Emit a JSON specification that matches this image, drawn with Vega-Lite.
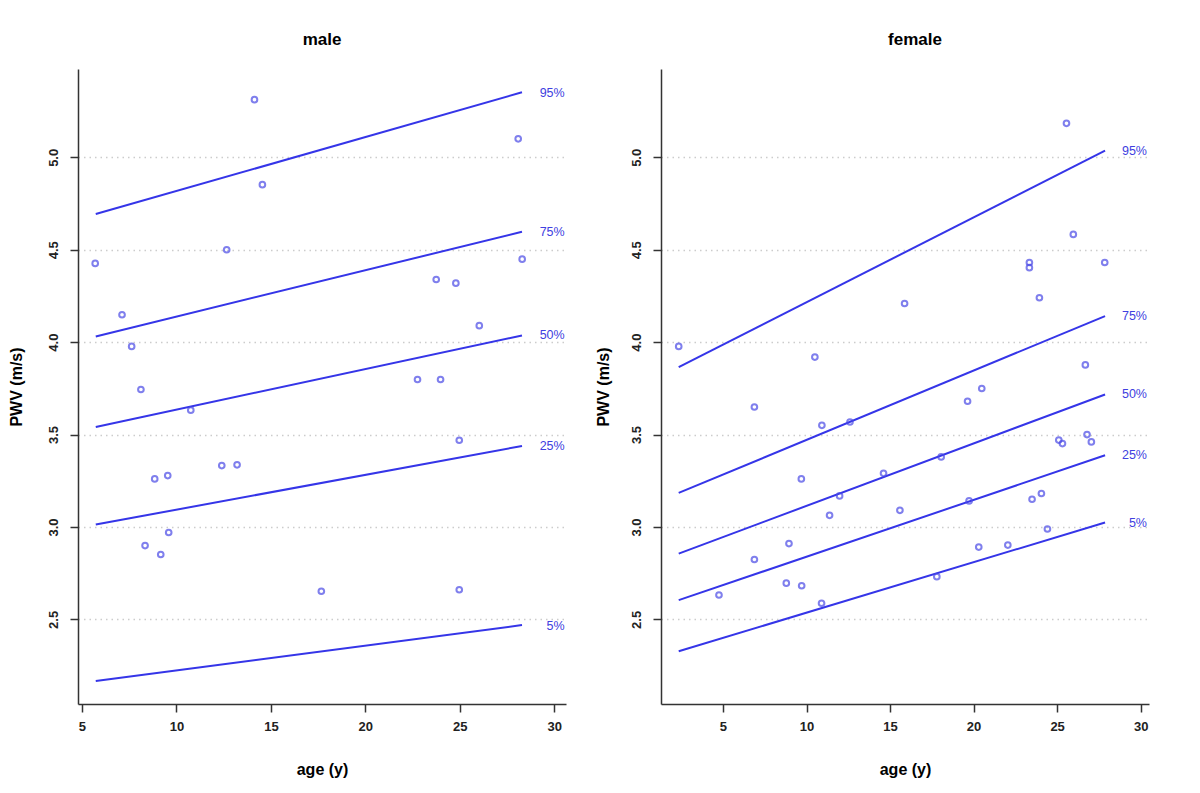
{
  "$schema": "https://vega.github.io/schema/vega-lite/v6.json",
  "background": "white",
  "padding": {"left": 8, "top": 31, "right": 5, "bottom": 5},
  "config": {
    "font": "Liberation Sans",
    "view": {"stroke": null},
    "axis": {
      "domainColor": "#333333", "domainWidth": 1.5,
      "tickColor": "#333333", "tickWidth": 1.5, "tickSize": 8,
      "labelFont": "Liberation Sans", "labelFontWeight": "bold", "labelFontSize": 13, "labelColor": "#222222",
      "titleFont": "Liberation Sans", "titleFontWeight": "bold", "titleFontSize": 16, "titleColor": "#000000"
    },
    "title": {"font": "Liberation Sans", "fontWeight": "bold", "fontSize": 17, "color": "#000000", "offset": 20}
  },
  "datasets": {
    "points": [
      {"sex": "male", "age": 5.70, "pwv": 4.426},
      {"sex": "male", "age": 14.13, "pwv": 5.312},
      {"sex": "male", "age": 14.55, "pwv": 4.852},
      {"sex": "male", "age": 12.66, "pwv": 4.50},
      {"sex": "male", "age": 7.12, "pwv": 4.148},
      {"sex": "male", "age": 7.63, "pwv": 3.977},
      {"sex": "male", "age": 8.12, "pwv": 3.744},
      {"sex": "male", "age": 10.76, "pwv": 3.632},
      {"sex": "male", "age": 8.85, "pwv": 3.26},
      {"sex": "male", "age": 9.54, "pwv": 3.278},
      {"sex": "male", "age": 12.40, "pwv": 3.332},
      {"sex": "male", "age": 13.21, "pwv": 3.336},
      {"sex": "male", "age": 9.59, "pwv": 2.970},
      {"sex": "male", "age": 8.34, "pwv": 2.899},
      {"sex": "male", "age": 9.17, "pwv": 2.851},
      {"sex": "male", "age": 28.09, "pwv": 5.10},
      {"sex": "male", "age": 28.30, "pwv": 4.449},
      {"sex": "male", "age": 23.75, "pwv": 4.339},
      {"sex": "male", "age": 24.79, "pwv": 4.319},
      {"sex": "male", "age": 26.03, "pwv": 4.089},
      {"sex": "male", "age": 22.76, "pwv": 3.798},
      {"sex": "male", "age": 23.98, "pwv": 3.798},
      {"sex": "male", "age": 24.97, "pwv": 3.469},
      {"sex": "male", "age": 17.67, "pwv": 2.652},
      {"sex": "male", "age": 24.97, "pwv": 2.660},
      {"sex": "female", "age": 2.35, "pwv": 3.977},
      {"sex": "female", "age": 10.50, "pwv": 3.919},
      {"sex": "female", "age": 6.88, "pwv": 3.649},
      {"sex": "female", "age": 10.92, "pwv": 3.550},
      {"sex": "female", "age": 12.60, "pwv": 3.568},
      {"sex": "female", "age": 9.69, "pwv": 3.26},
      {"sex": "female", "age": 14.61, "pwv": 3.29},
      {"sex": "female", "age": 11.98, "pwv": 3.168},
      {"sex": "female", "age": 11.38, "pwv": 3.063},
      {"sex": "female", "age": 8.95, "pwv": 2.910},
      {"sex": "female", "age": 6.88, "pwv": 2.824},
      {"sex": "female", "age": 4.76, "pwv": 2.632},
      {"sex": "female", "age": 8.79, "pwv": 2.696},
      {"sex": "female", "age": 9.71, "pwv": 2.682},
      {"sex": "female", "age": 10.90, "pwv": 2.587},
      {"sex": "female", "age": 25.56, "pwv": 5.184},
      {"sex": "female", "age": 25.97, "pwv": 4.583},
      {"sex": "female", "age": 23.34, "pwv": 4.431},
      {"sex": "female", "age": 23.34, "pwv": 4.403},
      {"sex": "female", "age": 27.85, "pwv": 4.431},
      {"sex": "female", "age": 23.94, "pwv": 4.240},
      {"sex": "female", "age": 15.87, "pwv": 4.209},
      {"sex": "female", "age": 26.69, "pwv": 3.877},
      {"sex": "female", "age": 20.49, "pwv": 3.749},
      {"sex": "female", "age": 19.64, "pwv": 3.680},
      {"sex": "female", "age": 26.79, "pwv": 3.50},
      {"sex": "female", "age": 25.10, "pwv": 3.470},
      {"sex": "female", "age": 25.32, "pwv": 3.451},
      {"sex": "female", "age": 27.05, "pwv": 3.460},
      {"sex": "female", "age": 18.06, "pwv": 3.379},
      {"sex": "female", "age": 15.59, "pwv": 3.090},
      {"sex": "female", "age": 19.73, "pwv": 3.141},
      {"sex": "female", "age": 23.50, "pwv": 3.150},
      {"sex": "female", "age": 24.06, "pwv": 3.181},
      {"sex": "female", "age": 24.42, "pwv": 2.989},
      {"sex": "female", "age": 20.31, "pwv": 2.891},
      {"sex": "female", "age": 22.05, "pwv": 2.902},
      {"sex": "female", "age": 17.80, "pwv": 2.731}
    ],
    "lines": [
      {"sex": "male", "pct": "95%", "age": 5.73, "pwv": 4.693},
      {"sex": "male", "pct": "95%", "age": 28.29, "pwv": 5.352},
      {"sex": "male", "pct": "75%", "age": 5.73, "pwv": 4.031},
      {"sex": "male", "pct": "75%", "age": 28.29, "pwv": 4.597},
      {"sex": "male", "pct": "50%", "age": 5.73, "pwv": 3.541},
      {"sex": "male", "pct": "50%", "age": 28.29, "pwv": 4.036},
      {"sex": "male", "pct": "25%", "age": 5.73, "pwv": 3.013},
      {"sex": "male", "pct": "25%", "age": 28.29, "pwv": 3.438},
      {"sex": "male", "pct": "5%", "age": 5.73, "pwv": 2.166},
      {"sex": "male", "pct": "5%", "age": 28.29, "pwv": 2.469},
      {"sex": "female", "pct": "95%", "age": 2.35, "pwv": 3.865},
      {"sex": "female", "pct": "95%", "age": 27.87, "pwv": 5.036},
      {"sex": "female", "pct": "75%", "age": 2.35, "pwv": 3.184},
      {"sex": "female", "pct": "75%", "age": 27.87, "pwv": 4.141},
      {"sex": "female", "pct": "50%", "age": 2.35, "pwv": 2.856},
      {"sex": "female", "pct": "50%", "age": 27.87, "pwv": 3.717},
      {"sex": "female", "pct": "25%", "age": 2.35, "pwv": 2.604},
      {"sex": "female", "pct": "25%", "age": 27.87, "pwv": 3.388},
      {"sex": "female", "pct": "5%", "age": 2.35, "pwv": 2.327},
      {"sex": "female", "pct": "5%", "age": 27.87, "pwv": 3.024}
    ],
    "labels": [
      {"sex": "male", "pct": "95%", "age": 30.55, "pwv": 5.346},
      {"sex": "male", "pct": "75%", "age": 30.55, "pwv": 4.597},
      {"sex": "male", "pct": "50%", "age": 30.55, "pwv": 4.036},
      {"sex": "male", "pct": "25%", "age": 30.55, "pwv": 3.438},
      {"sex": "male", "pct": "5%", "age": 30.55, "pwv": 2.466},
      {"sex": "female", "pct": "95%", "age": 30.38, "pwv": 5.036},
      {"sex": "female", "pct": "75%", "age": 30.38, "pwv": 4.141},
      {"sex": "female", "pct": "50%", "age": 30.38, "pwv": 3.717},
      {"sex": "female", "pct": "25%", "age": 30.38, "pwv": 3.388},
      {"sex": "female", "pct": "5%", "age": 30.38, "pwv": 3.024}
    ]
  },
  "spacing": 29,
  "hconcat": [
    {
      "title": {"text": "male"},
      "width": 488, "height": 635,
      "layer": [
        {
          "data": {"name": "lines"},
          "transform": [{"filter": "datum.sex === 'male'"}],
          "mark": {"type": "line", "color": "#3535e8", "strokeWidth": 2},
          "encoding": {
            "x": {"field": "age", "type": "quantitative", "scale": {"domain": [4.79, 30.62], "nice": false, "zero": false},
              "axis": {"title": "age (y)", "values": [5, 10, 15, 20, 25, 30], "grid": false, "labelPadding": 8, "titlePadding": 28}},
            "y": {"field": "pwv", "type": "quantitative", "scale": {"domain": [2.042, 5.478], "nice": false, "zero": false},
              "axis": {"title": "PWV (m/s)", "values": [2.5, 3.0, 3.5, 4.0, 4.5, 5.0], "format": ".1f", "labelAngle": -90, "labelAlign": "center", "labelBaseline": "bottom", "labelPadding": 10, "titlePadding": 23,
                "grid": true, "gridColor": "#cccccc", "gridDash": [1.5, 4], "gridWidth": 1.3}},
            "detail": {"field": "pct"}
          }
        },
        {
          "data": {"name": "points"},
          "transform": [{"filter": "datum.sex === 'male'"}],
          "mark": {"type": "point", "shape": "circle", "filled": false, "color": "#4a4ae6", "strokeWidth": 2, "size": 32},
          "encoding": {
            "x": {"field": "age", "type": "quantitative"},
            "y": {"field": "pwv", "type": "quantitative"}
          }
        },
        {
          "data": {"name": "labels"},
          "transform": [{"filter": "datum.sex === 'male'"}],
          "mark": {"type": "text", "align": "right", "baseline": "middle", "color": "#4040e0", "fontSize": 12.5, "font": "Liberation Sans"},
          "encoding": {
            "x": {"field": "age", "type": "quantitative"},
            "y": {"field": "pwv", "type": "quantitative"},
            "text": {"field": "pct"}
          }
        }
      ]
    },
    {
      "title": {"text": "female", "dx": 10},
      "width": 488, "height": 635,
      "layer": [
        {
          "data": {"name": "lines"},
          "transform": [{"filter": "datum.sex === 'female'"}],
          "mark": {"type": "line", "color": "#3535e8", "strokeWidth": 2},
          "encoding": {
            "x": {"field": "age", "type": "quantitative", "scale": {"domain": [1.29, 30.5], "nice": false, "zero": false},
              "axis": {"title": "age (y)", "values": [5, 10, 15, 20, 25, 30], "grid": false, "labelPadding": 8, "titlePadding": 28}},
            "y": {"field": "pwv", "type": "quantitative", "scale": {"domain": [2.042, 5.478], "nice": false, "zero": false},
              "axis": {"title": "PWV (m/s)", "values": [2.5, 3.0, 3.5, 4.0, 4.5, 5.0], "format": ".1f", "labelAngle": -90, "labelAlign": "center", "labelBaseline": "bottom", "labelPadding": 10, "titlePadding": 19,
                "grid": true, "gridColor": "#cccccc", "gridDash": [1.5, 4], "gridWidth": 1.3}},
            "detail": {"field": "pct"}
          }
        },
        {
          "data": {"name": "points"},
          "transform": [{"filter": "datum.sex === 'female'"}],
          "mark": {"type": "point", "shape": "circle", "filled": false, "color": "#4a4ae6", "strokeWidth": 2, "size": 32},
          "encoding": {
            "x": {"field": "age", "type": "quantitative"},
            "y": {"field": "pwv", "type": "quantitative"}
          }
        },
        {
          "data": {"name": "labels"},
          "transform": [{"filter": "datum.sex === 'female'"}],
          "mark": {"type": "text", "align": "right", "baseline": "middle", "color": "#4040e0", "fontSize": 12.5, "font": "Liberation Sans"},
          "encoding": {
            "x": {"field": "age", "type": "quantitative"},
            "y": {"field": "pwv", "type": "quantitative"},
            "text": {"field": "pct"}
          }
        }
      ]
    }
  ]
}
